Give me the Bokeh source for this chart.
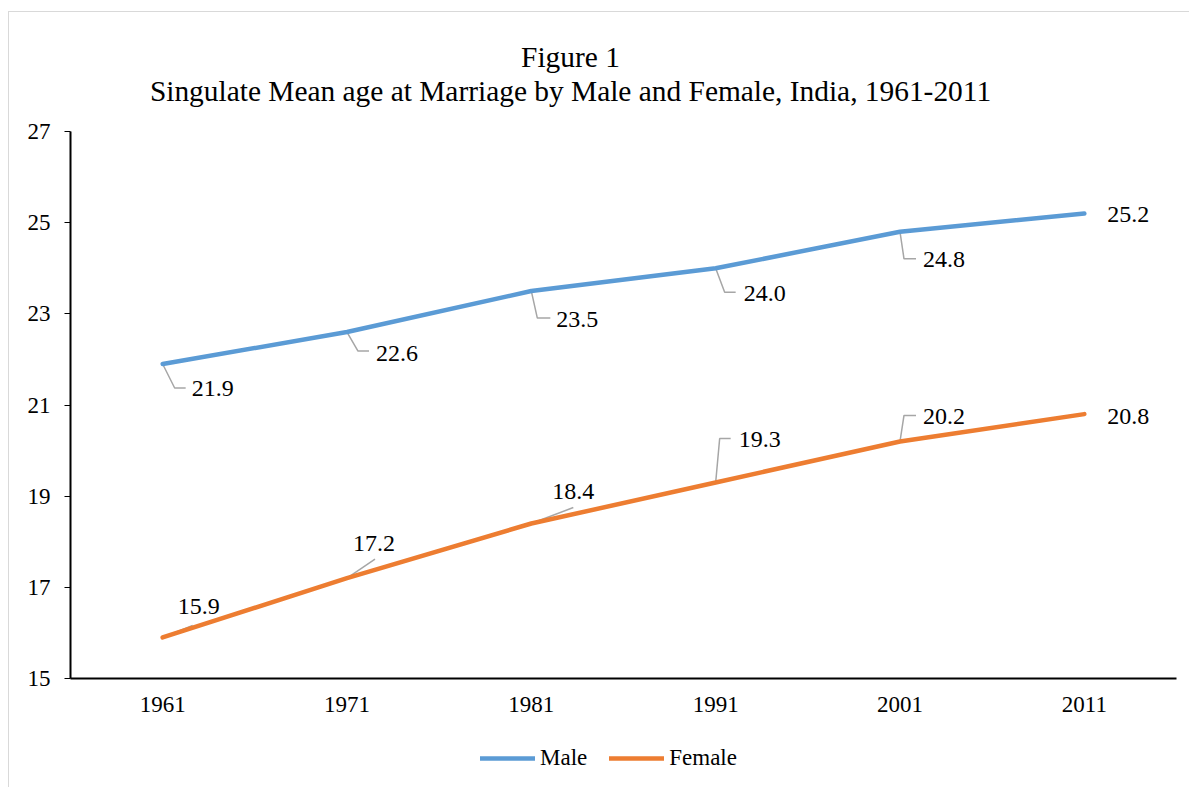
from bokeh.plotting import figure
from bokeh.models import (Range1d, FixedTicker, Legend, LegendItem, Label)
from bokeh.layouts import column
from bokeh.embed import file_html
from bokeh.resources import INLINE

# ---- data ----
years = ["1961", "1971", "1981", "1991", "2001", "2011"]
male = [21.9, 22.6, 23.5, 24.0, 24.8, 25.2]
female = [15.9, 17.2, 18.4, 19.3, 20.2, 20.8]
y_ticks = [15, 17, 19, 21, 23, 25, 27]
title_line1 = "Figure 1"
title_line2 = "Singulate Mean age at Marriage by Male and Female, India, 1961-2011"
series_names = ["Male", "Female"]

# ---- styles / label placement (pixel offsets, y down) ----
FONT = "Liberation Serif"
QFONT = "'Liberation Serif'"
BLUE = "#5B9BD5"
ORANGE = "#ED7D31"
GRAY = "#A6A6A6"

male_text_dx = [29, 29, 25, 28, 23, 23]
male_text_dy = [25, 21, 28, 25, 28, 1]
female_text_dx = [15, 6, 21, 23, 23, 23]
female_text_dy = [-31, -35, -32, -43, -25, 2]
male_leaders = [[(12, 24), (23, 24)], [(11, 19), (22, 19)], [(6, 27), (19, 27)],
                [(9, 24), (20, 24)], [(4, 27), (16, 27)], []]
female_leaders = [[(30, -12)], [(28, -19)], [(42, -16)],
                  [(4, -44), (15, -44)], [(4, -26), (16, -26)], []]

OX, OY = 9, 12                 # content origin on the page
W = 1180
T_BOT, P_BOT, L_BOT = 112, 722, 787   # page y of the bottom of each stacked figure
FL, FR, FT, FB = 70, 1176, 131, 678  # main frame in page pixels (frames align in the column)
xpos = [i + 0.5 for i in range(len(years))]
px_x = (FR - FL) / len(years)
px_y = (FB - FT) / (y_ticks[-1] - y_ticks[0])


def strip(h):
    # x data == page pixels (frames of the column are aligned with the main chart)
    f = figure(width=W, height=h, output_backend="svg", toolbar_location=None,
               x_range=Range1d(FL, FR), y_range=Range1d(0, h),
               x_axis_type=None, y_axis_type=None,
               min_border_left=FL - OX, min_border_right=OX + W - FR,
               min_border_top=0, min_border_bottom=0)
    f.title = None
    f.outline_line_color = None
    f.grid.visible = False
    return f


# ---- title strip ----
tf = strip(T_BOT - OY)
for txt, mid in ((title_line1, 56), (title_line2, 90)):
    tf.add_layout(Label(x=570, y=T_BOT - mid, text=txt, text_font=FONT,
                        text_font_size="29.4px", text_color="black",
                        text_align="center", text_baseline="middle"))

# ---- main chart ----
p = figure(width=W, height=P_BOT - T_BOT, output_backend="svg", toolbar_location=None,
           x_range=Range1d(0, len(years)), y_range=Range1d(y_ticks[0], y_ticks[-1]),
           min_border_left=FL - OX, min_border_right=OX + W - FR,
           min_border_top=FT - T_BOT, min_border_bottom=P_BOT - FB)
p.title = None
p.outline_line_color = None
p.xgrid.visible = False
p.ygrid.visible = False

p.xaxis.ticker = FixedTicker(ticks=xpos)
p.xaxis.major_label_overrides = {x: y for x, y in zip(xpos, years)}
p.xaxis.major_tick_out = 0
p.xaxis.major_tick_in = 0
p.xaxis.minor_tick_out = 0
p.xaxis.minor_tick_in = 0
p.xaxis.major_label_standoff = 18
p.yaxis.ticker = FixedTicker(ticks=y_ticks)
p.yaxis.major_tick_out = 6
p.yaxis.major_tick_in = 0
p.yaxis.minor_tick_out = 0
p.yaxis.minor_tick_in = 0
p.yaxis.major_label_standoff = 14
for ax in (p.xaxis, p.yaxis):
    ax.axis_line_color = "black"
    ax.axis_line_width = 2
    ax.major_tick_line_color = "black"
    ax.major_tick_line_width = 1
    ax.major_label_text_font = FONT
    ax.major_label_text_font_size = "23px"
    ax.major_label_text_color = "black"


def leaders(vals, offs):
    xs, ys = [], []
    for x, v, o in zip(xpos, vals, offs):
        if not o:
            continue
        xs.append([x] + [x + dx / px_x for dx, dy in o])
        ys.append([v] + [v - dy / px_y for dx, dy in o])
    return xs, ys


mx, my = leaders(male, male_leaders)
fx, fy = leaders(female, female_leaders)
p.multi_line(mx, my, line_color=GRAY, line_width=1.5)
p.multi_line(fx, fy, line_color=GRAY, line_width=1.5)

p.line(xpos, male, line_color=BLUE, line_width=4.5, line_cap="round", line_join="round")
p.line(xpos, female, line_color=ORANGE, line_width=4.5, line_cap="round", line_join="round")

# data labels
for vals, dxs, dys in ((male, male_text_dx, male_text_dy),
                       (female, female_text_dx, female_text_dy)):
    for x, v, dx, dy in zip(xpos, vals, dxs, dys):
        p.add_layout(Label(x=x, y=v, x_offset=dx, y_offset=-dy, text=f"{v:.1f}",
                           text_font=FONT, text_font_size="24px", text_color="black",
                           text_align="left", text_baseline="middle"))

# ---- legend strip ----
lf = strip(L_BOT - P_BOT)
lm = lf.line([FL], [0], line_color=BLUE, line_width=4.5, line_cap="round")
lfe = lf.line([FL], [0], line_color=ORANGE, line_width=4.5, line_cap="round")
legend = Legend(items=[LegendItem(label=series_names[0], renderers=[lm]),
                       LegendItem(label=series_names[1], renderers=[lfe])],
                orientation="horizontal", location=(480 - FL, L_BOT - 758 - 13),
                glyph_width=55, glyph_height=20, label_height=20, label_standoff=5,
                spacing=22, padding=0, margin=0, border_line_color=None,
                background_fill_alpha=0, label_text_font=QFONT,
                label_text_font_size="23px", label_text_color="black")
lf.add_layout(legend)

layout = column(tf, p, lf, spacing=0)
layout.styles = {"margin-left": "8px", "margin-top": "11px",
                 "border-left": "1px solid #d9d9d9", "border-top": "1px solid #d9d9d9"}

open("out.html", "w").write(file_html(layout, INLINE))
